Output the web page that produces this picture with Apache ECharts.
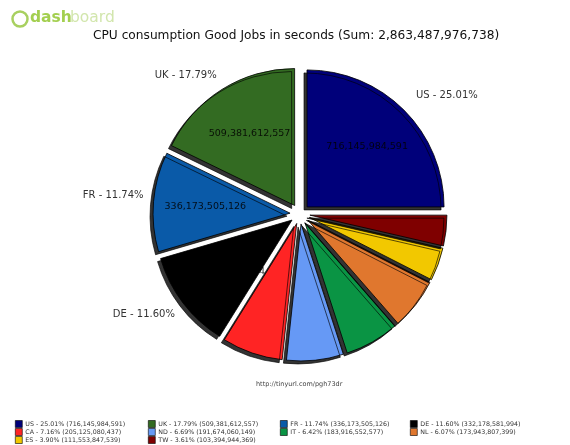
<!DOCTYPE html>
<html>
<head>
<meta charset="utf-8">
<script src="https://cdn.jsdelivr.net/npm/echarts@6/dist/echarts.min.js"></script>
<style>
  html, body { margin: 0; padding: 0; background: #fff; }
  #chart { width: 570px; height: 445px; }
</style>
</head>
<body>
<div id="chart"></div>
<script>
// countries, counter-clockwise from 3 o'clock
const countries = ['US', 'UK', 'FR', 'DE', 'CA', 'ND', 'IT', 'NL', 'ES', 'TW']
const seconds = [
  716145984591, 509381612557, 336173505126, 332178581994, 205125080437,
  191674060149, 183916552577, 173943807399, 111553847539, 103394944369,
]
const colors = ['#00007a', '#336b22', '#0a5aa8', '#000000', '#ff2424',
  '#6699f5', '#0a9444', '#e0772e', '#f2c800', '#7f0000']

// legend grid: 4 columns, filled row by row
const legendCols = [15, 148, 280, 410]
const legendRows = [424, 432, 440]
// small nudges so the outer labels sit where the original put them
const labelNudge = { US: [0, -8], UK: [5, -6], FR: [5, -5], DE: [5, 5] }

const total = seconds.reduce((a, b) => a + b, 0)
const fmt = (v) => v.toLocaleString('en-US')
const pct = (v) => (v / total * 100).toFixed(2)
const FONT = 'DejaVu Sans'

const chart = echarts.init(document.getElementById('chart'))

const pieData = countries.map((name, i) => ({
  name,
  value: seconds[i],
  selected: true,
  itemStyle: { color: colors[i] },
}))

chart.setOption({
  backgroundColor: '#fff',
  animation: false,
  title: {
    text: `CPU consumption Good Jobs in seconds (Sum: ${fmt(total)})`,
    left: 88,
    top: 25,
    textStyle: { fontFamily: FONT, fontSize: 12.2, fontWeight: 'normal', color: '#111' },
  },
  graphic: [
    { type: 'circle', shape: { cx: 20, cy: 19, r: 7.5 }, style: { fill: '#fff', stroke: '#a8d060', lineWidth: 2.5 } },
    { type: 'text', left: 30, top: 10, style: { text: 'dash', fontFamily: FONT, fontSize: 15.5, fontWeight: 'bold', fill: '#a3cf4f' } },
    { type: 'text', left: 70, top: 10, style: { text: 'board', fontFamily: FONT, fontSize: 15.5, fill: '#d2e6ad' } },
    { type: 'text', left: 256, top: 381, style: { text: 'http://tinyurl.com/pgh73dr', fontFamily: FONT, fontSize: 6.5, fill: '#444' } },
  ],
  legend: countries.map((name, i) => ({
    data: [name],
    left: legendCols[i % 4],
    top: legendRows[Math.floor(i / 4)] - 4,
    padding: 0,
    itemWidth: 7,
    itemHeight: 7,
    itemGap: 0,
    selectedMode: false,
    icon: 'rect',
    itemStyle: { borderColor: '#000', borderWidth: 0.6, shadowBlur: 0, shadowOffsetX: 0, shadowOffsetY: 0 },
    textStyle: { fontFamily: FONT, fontSize: 6.3, lineHeight: 8, color: '#333', padding: [0, 0, 0, -2] },
    formatter: (n) => {
      const v = seconds[countries.indexOf(n)]
      return `${n} - ${pct(v)}% (${fmt(v)})`
    },
  })),
  series: [
    {
      type: 'pie',
      center: [300, 214],
      radius: [0, 137],
      startAngle: 0,
      clockwise: false,
      selectedMode: 'multiple',
      selectedOffset: 10,
      avoidLabelOverlap: false,
      data: pieData,
      itemStyle: {
        borderColor: '#000',
        borderWidth: 0.8,
        shadowColor: 'rgba(0,0,0,0.8)',
        shadowBlur: 0,
        shadowOffsetX: -3,
        shadowOffsetY: 3,
      },
      label: {
        position: 'outside',
        fontFamily: FONT,
        fontSize: 10,
        color: '#333',
        formatter: (p) => (p.percent < 10 ? '' : `${p.name} - ${pct(p.value)}%`),
      },
      labelLine: { show: false, length: 10, length2: 0 },
      labelLayout: (p) => {
        const n = labelNudge[countries[p.dataIndex]] || [0, 0]
        return { dx: n[0], dy: n[1] }
      },
      emphasis: { disabled: true },
    },
    {
      // transparent copy, only carries the value labels at 0.6 of the radius
      type: 'pie',
      center: [300, 214],
      radius: [0, 164],
      startAngle: 0,
      clockwise: false,
      selectedMode: 'multiple',
      selectedOffset: 10,
      silent: true,
      legendHoverLink: false,
      data: pieData.map((d) => ({ ...d, itemStyle: { color: 'rgba(0,0,0,0)' } })),
      itemStyle: { color: 'rgba(0,0,0,0)', borderWidth: 0 },
      label: {
        position: 'inside',
        fontFamily: FONT,
        fontSize: 9.5,
        color: 'rgba(0,0,0,0.85)',
        formatter: (p) => (p.percent < 10 ? '' : fmt(p.value)),
      },
      labelLine: { show: false },
      emphasis: { disabled: true },
    },
  ],
})
</script>
</body>
</html>
